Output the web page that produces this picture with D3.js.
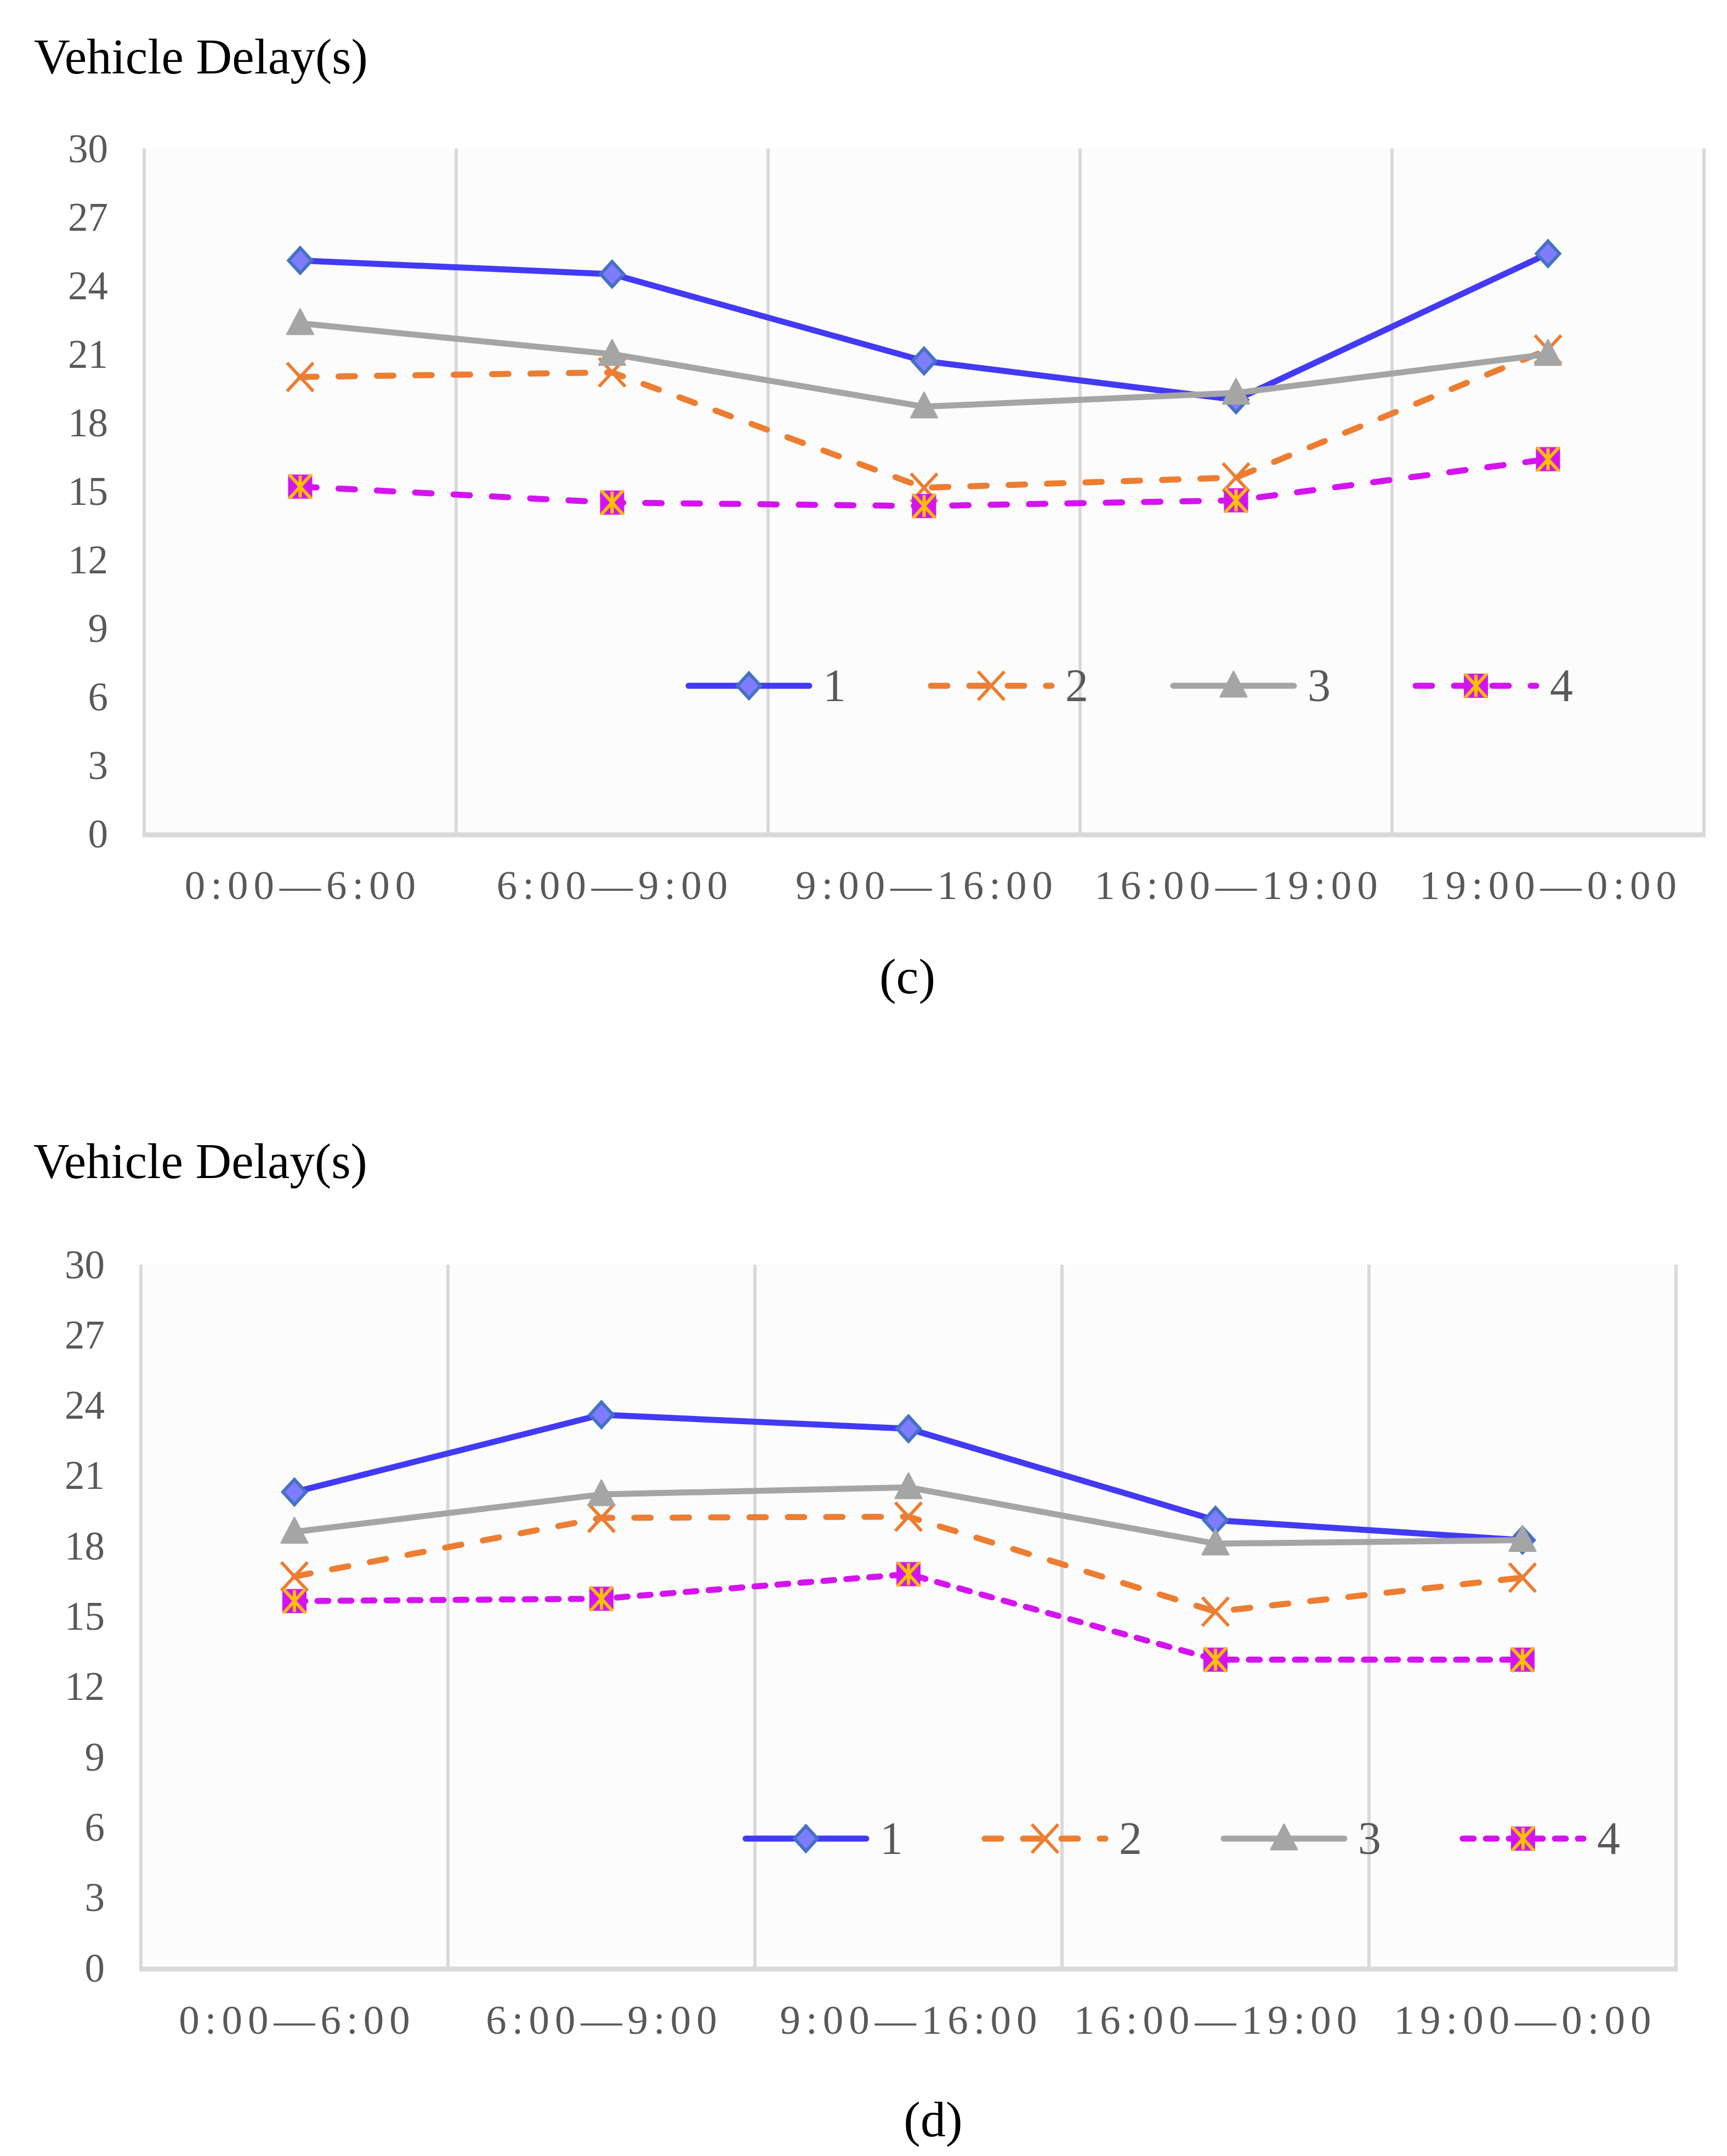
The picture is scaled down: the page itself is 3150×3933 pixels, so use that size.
<!DOCTYPE html>
<html>
<head>
<meta charset="utf-8">
<script src="https://cdn.jsdelivr.net/npm/d3@7"></script>
<style>
  body { margin: 0; background: #fff; }
  text { font-family: "Liberation Serif", "Times New Roman", serif; }
</style>
</head>
<body>
<svg id="chart"></svg>
<script>
// data
const categories = ["0:00—6:00", "6:00—9:00", "9:00—16:00", "16:00—19:00", "19:00—0:00"];
const seriesNames = ["1", "2", "3", "4"];
const yTicks = [0, 3, 6, 9, 12, 15, 18, 21, 24, 27, 30];

// panel (c)
const delayC1 = [25.1, 24.5, 20.7, 19.0, 25.4];
const delayC2 = [20.0, 20.2, 15.15, 15.6, 21.2];
const delayC3 = [22.35, 21.0, 18.7, 19.3, 21.0];
const delayC4 = [15.2, 14.5, 14.35, 14.6, 16.4];

// panel (d)
const delayD1 = [20.3, 23.6, 23.0, 19.1, 18.25];
const delayD2 = [16.7, 19.2, 19.25, 15.2, 16.65];
const delayD3 = [18.6, 20.2, 20.5, 18.1, 18.25];
const delayD4 = [15.65, 15.75, 16.8, 13.15, 13.15];

const W = 3150, H = 3933;
const svg = d3.select("#chart").attr("width", W).attr("height", H);

const styles = [
  { color: "#433af5", dash: null, marker: "diamond" },
  { color: "#ed7d31", dash: "30,40", marker: "cross" },
  { color: "#a5a5a5", dash: null, marker: "triangle" },
  { color: "#d414f0", dash: "30,40", marker: "star" }
];

function drawMarker(g, type, x, y) {
  const m = g.append("g").attr("transform", `translate(${x},${y})`);
  if (type === "diamond") {
    m.append("path").attr("d", "M0,-23 L21,0 L0,23 L-21,0 Z")
      .attr("fill", "#7f7cff").attr("stroke", "#4472c4").attr("stroke-width", 6);
  } else if (type === "cross") {
    m.append("path").attr("d", "M-24,-26 L24,26 M24,-26 L-24,26")
      .attr("stroke", "#ed7d31").attr("stroke-width", 6).attr("fill", "none");
  } else if (type === "triangle") {
    m.append("path").attr("d", "M0,-26 L24,20 L-24,20 Z")
      .attr("fill", "#a5a5a5").attr("stroke", "#a5a5a5").attr("stroke-width", 3)
      .attr("stroke-linejoin", "round");
  } else if (type === "star") {
    m.append("rect").attr("x", -22).attr("y", -22).attr("width", 44).attr("height", 44)
      .attr("fill", "#d414f0");
    m.append("path").attr("d", "M-20,-22 L20,22 M20,-22 L-20,22 M0,-20 L0,20")
      .attr("stroke", "#ffc000").attr("stroke-width", 6).attr("fill", "none");
  }
}

function drawPanel(cfg) {
  const g = svg.append("g");
  const x = d3.scaleBand().domain(categories).range([cfg.left, cfg.right]).padding(0);
  const y = d3.scaleLinear().domain([0, 30]).range([cfg.bottom, cfg.top]);
  const cx = d => x(d) + x.bandwidth() / 2;

  // plot area
  g.append("rect")
    .attr("x", cfg.left).attr("y", cfg.top)
    .attr("width", cfg.right - cfg.left).attr("height", cfg.bottom - cfg.top)
    .attr("fill", "#fcfcfc");

  // vertical separators
  const edges = categories.map(c => x(c)).concat([cfg.right]);
  g.selectAll(".vgrid").data(edges).enter().append("line")
    .attr("x1", d => d).attr("x2", d => d)
    .attr("y1", y(30)).attr("y2", y(0))
    .attr("stroke", "#d9d9d9").attr("stroke-width", 6);

  // bottom axis line
  g.append("line")
    .attr("x1", cfg.left - 3).attr("x2", cfg.right + 3)
    .attr("y1", y(0) + 2).attr("y2", y(0) + 2)
    .attr("stroke", "#d9d9d9").attr("stroke-width", 9);

  // y axis labels
  const yAxis = g.append("g")
    .attr("transform", `translate(${cfg.left - 66},0)`)
    .call(d3.axisLeft(y).tickValues(yTicks).tickSize(0).tickPadding(0));
  yAxis.select(".domain").remove();
  yAxis.selectAll("text")
    .attr("font-family", "Liberation Serif, serif")
    .attr("font-size", 73).attr("fill", "#595959")
    .attr("dy", "0.33em").attr("text-anchor", "end");

  // x axis labels
  const xAxis = g.append("g")
    .attr("transform", `translate(0,${cfg.xLabelY})`)
    .call(d3.axisBottom(x).tickSize(0).tickPadding(0));
  xAxis.select(".domain").remove();
  xAxis.selectAll("text")
    .attr("font-family", "Liberation Serif, serif")
    .attr("font-size", 75).attr("fill", "#595959")
    .attr("letter-spacing", 10).attr("dy", 0).attr("dx", 5);

  // series
  cfg.series.forEach((vals, i) => {
    const st = styles[i];
    const dash = i === 3 ? cfg.dash4 : st.dash;
    const line = d3.line().x((d, j) => cx(categories[j])).y(d => y(d));
    g.append("path").datum(vals)
      .attr("d", line)
      .attr("fill", "none")
      .attr("stroke", st.color)
      .attr("stroke-width", 11)
      .attr("stroke-linecap", dash ? "round" : "butt")
      .attr("stroke-linejoin", "round")
      .attr("stroke-dasharray", dash);
    vals.forEach((v, j) => drawMarker(g, st.marker, cx(categories[j]), y(v)));
  });

  // legend
  seriesNames.forEach((name, i) => {
    const st = styles[i];
    const dash = i === 3 ? cfg.dash4 : st.dash;
    const x0 = cfg.legendX + i * cfg.legendStep;
    g.append("line")
      .attr("x1", x0).attr("x2", x0 + 220)
      .attr("y1", cfg.legendY).attr("y2", cfg.legendY)
      .attr("stroke", st.color).attr("stroke-width", 11)
      .attr("stroke-linecap", "round")
      .attr("stroke-dasharray", dash);
    drawMarker(g, st.marker, x0 + 110, cfg.legendY);
    g.append("text")
      .attr("x", x0 + 245).attr("y", cfg.legendY + 28)
      .attr("font-size", 84).attr("fill", "#595959")
      .text(name);
  });

  // title
  g.append("text")
    .attr("x", cfg.titleX).attr("y", cfg.titleY)
    .attr("font-size", 91).attr("fill", "#000")
    .text("Vehicle Delay(s)");

  // caption
  g.append("text")
    .attr("x", cfg.captionX).attr("y", cfg.captionY)
    .attr("text-anchor", "middle")
    .attr("font-size", 92).attr("fill", "#000")
    .text(cfg.caption);
}

drawPanel({
  left: 263, right: 3108, top: 271, bottom: 1521,
  xLabelY: 1640, titleX: 62, titleY: 134,
  captionX: 1655, captionY: 1812, caption: "(c)",
  legendX: 1256, legendY: 1251, legendStep: 442,
  dash4: "30,40",
  series: [delayC1, delayC2, delayC3, delayC4]
});

drawPanel({
  left: 257, right: 3057, top: 2307, bottom: 3590,
  xLabelY: 3710, titleX: 61, titleY: 2149,
  captionX: 1702, captionY: 3897, caption: "(d)",
  legendX: 1360, legendY: 3354, legendStep: 436,
  dash4: "20,22",
  series: [delayD1, delayD2, delayD3, delayD4]
});
</script>
</body>
</html>
